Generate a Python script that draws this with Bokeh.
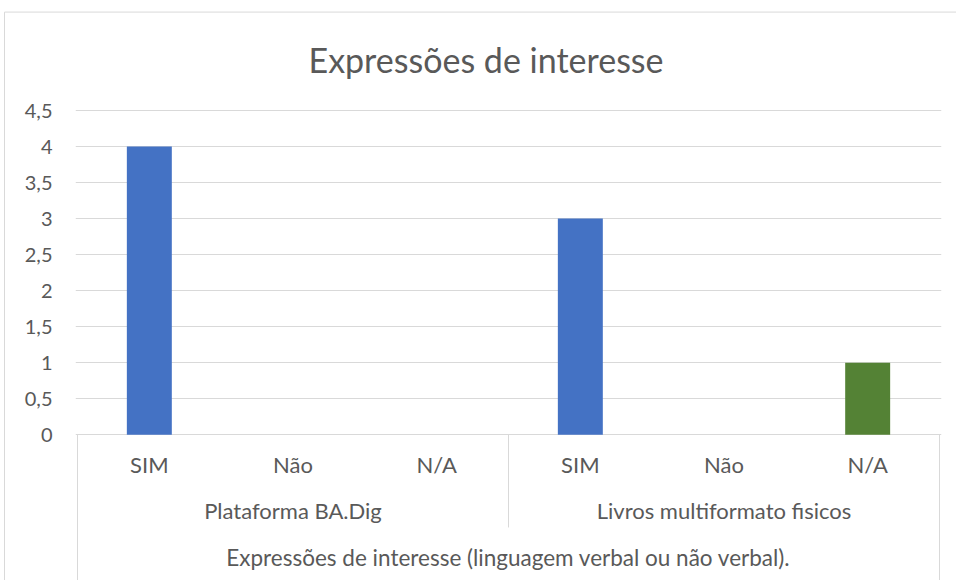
import numpy as np
from bokeh.plotting import figure
from bokeh.models import Range1d, FixedTicker, CustomJSTickFormatter, ColumnDataSource
from bokeh.core.properties import value
from bokeh.embed import file_html
from bokeh.resources import INLINE

# ---- data ----
chart_title = "Expressões de interesse"
top_label = "Expressões de interesse (linguagem verbal ou não verbal)."
groups = ["Plataforma BA.Dig", "Livros multiformato fisicos"]
answers = ["SIM", "Não", "N/A"]
plataforma_values = [4, 0, 0]
livros_values = [3, 0, 1]
answer_colors = ["#4472C4", "#ED7D31", "#548235"]
y_ticks = [0, 0.5, 1, 1.5, 2, 2.5, 3, 3.5, 4, 4.5]

# ---- style ----
FONT = "Lato"
TEXT = "#595959"
GRID = "#D9D9D9"

n_groups = len(groups)
n_ans = len(answers)
values = plataforma_values + livros_values
n_total = len(values)
x = np.arange(n_total) + 0.5
labels = answers * n_groups
colors = answer_colors * n_groups
group_x = [g * n_ans + n_ans / 2 for g in range(n_groups)]

src = ColumnDataSource(dict(x=x, top=values, color=colors, label=labels))

p = figure(width=956, height=580, output_backend="svg", toolbar_location=None,
           x_axis_type=None,
           x_range=Range1d(-0.0139, n_total + 0.0139),
           y_range=Range1d(-2.022, 4.528),
           min_border_left=75, min_border_right=15, min_border_top=108,
           min_border_bottom=0)
p.outline_line_color = None
p.background_fill_color = "white"
p.border_fill_color = "white"

# title
p.title.text = chart_title
p.title.align = "left"
p.title.offset = 233
p.title.standoff = 58
p.title.text_font = FONT
p.title.text_font_size = "34px"
p.title.text_font_style = "normal"
p.title.text_color = TEXT

# y axis
yax = p.yaxis[0]
yax.ticker = FixedTicker(ticks=y_ticks)
yax.formatter = CustomJSTickFormatter(code="return tick.toString().replace('.', ',')")
yax.axis_line_color = None
yax.major_tick_line_color = None
yax.minor_tick_line_color = None
yax.major_tick_out = 0
yax.major_tick_in = 0
yax.major_label_standoff = 23
yax.major_label_text_font = FONT
yax.major_label_text_font_size = "20px"
yax.major_label_text_color = TEXT

p.ygrid.ticker = FixedTicker(ticks=y_ticks)
p.ygrid.grid_line_color = GRID
p.ygrid.grid_line_width = 1

# bars
p.vbar(x="x", top="top", width=0.313, color="color", line_color=None, source=src)

# category labels (three levels)
LVL1_Y, LVL2_Y, LVL3_Y = -0.416, -1.054, -1.709
p.text(x=x, y=[LVL1_Y] * n_total, text=labels, text_align="center",
       text_baseline="alphabetic", text_font=value(FONT), text_font_size="22px",
       text_color=TEXT)
p.text(x=group_x, y=[LVL2_Y] * n_groups, text=groups, text_align="center",
       text_baseline="alphabetic", text_font=value(FONT), text_font_size="22px",
       text_color=TEXT)
p.text(x=[n_total / 2], y=[LVL3_Y], text=[top_label], text_align="center",
       text_baseline="alphabetic", text_font=value(FONT), text_font_size="22.5px",
       text_color=TEXT)

# axis separators
p.segment(x0=[0, n_total], y0=[0, 0], x1=[0, n_total], y1=[-2.1, -2.1],
          line_color=GRID, line_width=1)
p.segment(x0=[n_ans], y0=[0], x1=[n_ans], y1=[-1.286], line_color=GRID, line_width=1)

# chart border (outside frame)
p.segment(x0=[-0.508, -0.508], y0=[5.866, 5.866], x1=[6.2, -0.508], y1=[5.866, -2.1],
          line_color=GRID, line_width=1, level="overlay")

open("out.html", "w").write(file_html(p, INLINE))
